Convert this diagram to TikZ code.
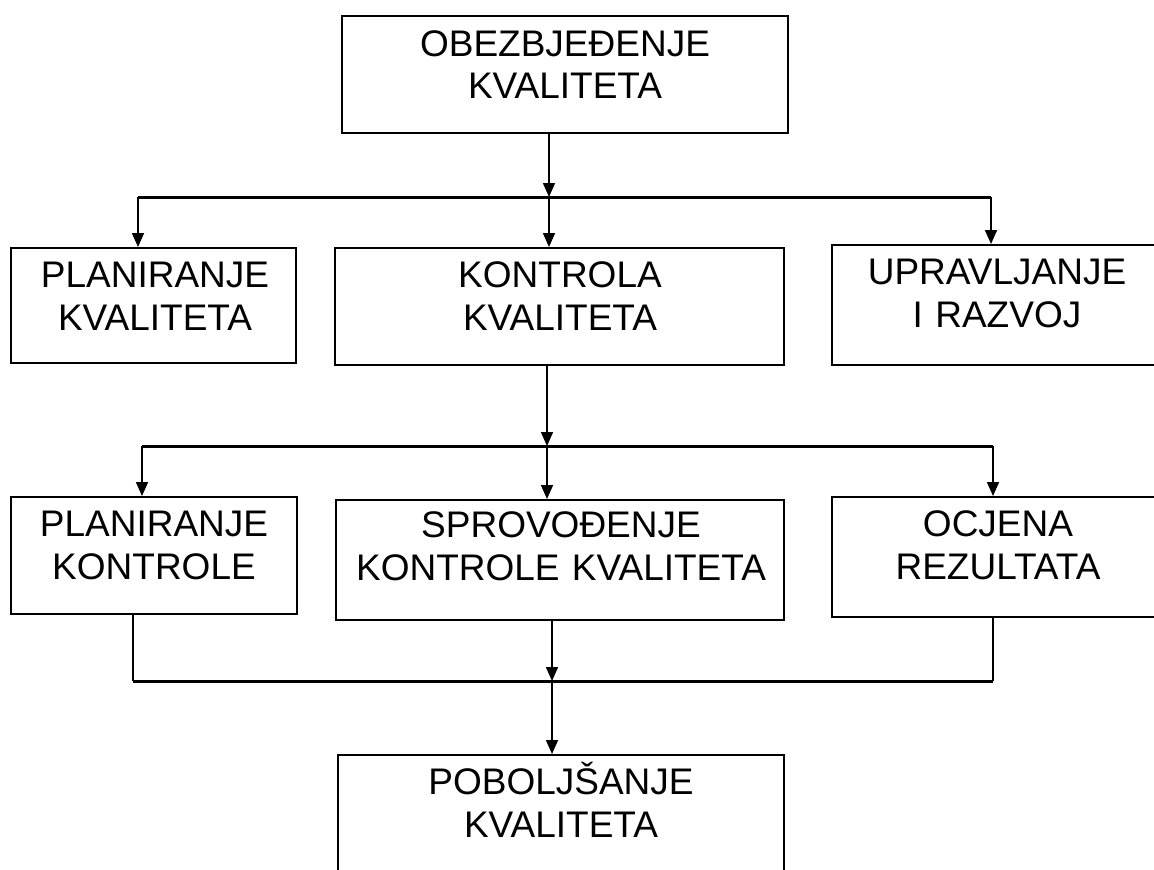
\documentclass[tikz,border=0pt]{standalone}
\usepackage{fontspec}
\setmainfont{Liberation Sans}
\usetikzlibrary{arrows.meta}
\tikzset{
  box/.style={draw=black, line width=2pt, rectangle, inner sep=0pt, fill=none},
  lbl/.style={anchor=base, align=center, inner sep=0pt, font=\fontsize{37}{43}\selectfont},
  arr/.style={draw=black, line width=1.6pt, -{Triangle[width=12pt,length=14pt]}},
  bus/.style={draw=black, line width=3pt},
  link/.style={draw=black, line width=2pt},
}
\begin{document}
\begin{tikzpicture}[x=1pt,y=-1pt]
\clip (0,0) rectangle (1154,870);
\fill[white] (0,0) rectangle (1154,870);
% boxes
\node[box, minimum width=446pt, minimum height=117pt] (top) at (565,74.5) {};
\node[box, minimum width=285pt, minimum height=115pt] (pk) at (153.5,305.5) {};
\node[box, minimum width=449pt, minimum height=117pt] (kk) at (559.5,306.5) {};
\node[box, minimum width=330pt, minimum height=120pt] (ur) at (997,305) {};
\node[box, minimum width=286pt, minimum height=117pt] (pc) at (154,555.5) {};
\node[box, minimum width=448pt, minimum height=120pt] (sk) at (560,560) {};
\node[box, minimum width=332pt, minimum height=120pt] (oc) at (998,557) {};
\node[box, minimum width=446pt, minimum height=150pt] (pb) at (561,830) {};
% labels
\node[lbl, text width=440pt] (ttop) at (565,56) {OBEZBJEĐENJE\\KVALITETA};
\node[lbl, text width=280pt] (tpk) at (155,287) {PLANIRANJE\\KVALITETA};
\node[lbl, text width=440pt] (tkk) at (560,287) {KONTROLA\\KVALITETA};
\node[lbl, text width=320pt] (tur) at (997,284) {UPRAVLJANJE\\I RAZVOJ};
\node[lbl, text width=280pt] (tpc) at (154,536) {PLANIRANJE\\KONTROLE};
\node[lbl, text width=440pt] (tsk) at (561,537) {SPROVOĐENJE\\KONTROLE KVALITETA};
\node[lbl, text width=320pt] (toc) at (998,536) {OCJENA\\REZULTATA};
\node[lbl, text width=440pt] (tpb) at (561,794) {POBOLJŠANJE\\KVALITETA};
% junction coordinates
\coordinate (b1L) at (138,197);
\coordinate (a1) at (549,197);
\coordinate (b1R) at (991,197);
\coordinate (b2L) at (142,446);
\coordinate (a2) at (547,446);
\coordinate (b2R) at (993,446);
\coordinate (b3L) at (133,681);
\coordinate (a3) at (552,681);
\coordinate (b3R) at (993,681);
% level 1
\draw[bus] (b1L) -- (b1R);
\draw[arr] (top.south -| a1) -- (a1);
\draw[arr] (b1L) -- (pk.north -| b1L);
\draw[arr] (a1) -- (kk.north -| a1);
\draw[arr] (b1R) -- (ur.north -| b1R);
% level 2
\draw[bus] (b2L) -- (b2R);
\draw[arr] (kk.south -| a2) -- (a2);
\draw[arr] (b2L) -- (pc.north -| b2L);
\draw[arr] (a2) -- (sk.north -| a2);
\draw[arr] (b2R) -- (oc.north -| b2R);
% level 3
\draw[link] (pc.south -| b3L) -- (b3L);
\draw[link] (oc.south -| b3R) -- (b3R);
\draw[bus] (b3L) -- (b3R);
\draw[arr] (sk.south -| a3) -- (a3);
\draw[arr] (a3) -- (pb.north -| a3);
\end{tikzpicture}
\end{document}
